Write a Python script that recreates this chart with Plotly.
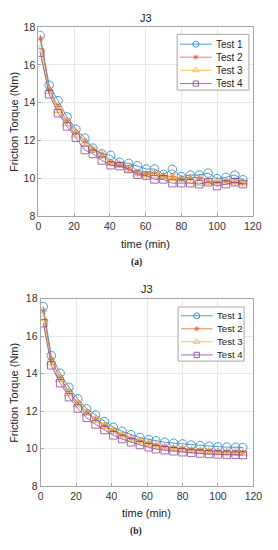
import plotly.graph_objects as go

time_a = [1, 6, 11, 16, 21, 26, 30.5, 35.5, 40.5, 45.5, 50.5, 55.5, 60.5, 65, 70, 75, 80, 85, 90, 95, 100, 105, 110, 114.5]
a_test1 = [17.56, 14.93, 14.11, 13.25, 12.6, 12.13, 11.6, 11.3, 11.22, 10.85, 10.8, 10.67, 10.5, 10.5, 10.22, 10.48, 10.1, 10.18, 10.18, 10.28, 9.99, 10.06, 10.18, 9.93]
a_test2 = [17.38, 14.7, 13.8, 13.05, 12.45, 11.95, 11.55, 11.3, 10.85, 10.75, 10.5, 10.3, 10.2, 10.3, 10.15, 10.1, 10.0, 10.05, 10.05, 9.85, 9.8, 9.85, 9.8, 9.75]
a_test3 = [16.8, 14.6, 13.6, 12.9, 12.3, 11.85, 11.5, 11.2, 10.8, 10.7, 10.45, 10.25, 10.2, 10.15, 10.1, 10.0, 9.95, 9.9, 9.75, 9.8, 9.85, 9.8, 9.85, 9.8]
a_test4 = [16.65, 14.45, 13.45, 12.75, 12.15, 11.5, 11.3, 10.95, 10.7, 10.65, 10.5, 10.2, 10.15, 9.95, 9.95, 9.75, 9.75, 9.75, 9.7, 9.8, 9.6, 9.7, 9.8, 9.7]

time_b = [1.5, 6, 11, 16, 21, 26, 31, 36, 41, 46, 51, 56, 61, 65, 70, 75, 80, 85, 90, 95, 100, 105, 110, 114]
b_test1 = [17.58, 14.97, 14.03, 13.28, 12.66, 12.13, 11.8, 11.45, 11.15, 10.93, 10.75, 10.6, 10.5, 10.43, 10.35, 10.3, 10.26, 10.2, 10.17, 10.14, 10.11, 10.09, 10.08, 10.07]
b_test2 = [17.35, 14.75, 13.8, 13.05, 12.45, 11.98, 11.6, 11.25, 10.98, 10.75, 10.57, 10.43, 10.3, 10.2, 10.12, 10.05, 10.0, 9.95, 9.91, 9.88, 9.85, 9.83, 9.81, 9.8]
b_test3 = [16.95, 14.6, 13.7, 12.95, 12.35, 11.9, 11.5, 11.2, 10.92, 10.7, 10.52, 10.38, 10.25, 10.15, 10.07, 10.0, 9.95, 9.9, 9.86, 9.83, 9.8, 9.78, 9.77, 9.76]
b_test4 = [16.7, 14.45, 13.5, 12.75, 12.15, 11.65, 11.3, 11.0, 10.72, 10.52, 10.35, 10.2, 10.08, 9.98, 9.92, 9.87, 9.82, 9.78, 9.75, 9.72, 9.7, 9.69, 9.68, 9.67]

names = ["Test 1", "Test 2", "Test 3", "Test 4"]
colors = ["#0072BD", "#D95319", "#EDB120", "#7E2F8E"]
symbols = ["circle-open", "asterisk-open", "triangle-up-open", "square-open"]
sizes = [8.5, 6, 8.5, 7.5]

W, H = 278, 550
fig = go.Figure()

for k, ys in enumerate([a_test1, a_test2, a_test3, a_test4]):
    fig.add_trace(go.Scatter(x=time_a, y=ys, name=names[k], mode="lines+markers",
                             line=dict(color=colors[k], width=1), opacity=0.7,
                             marker=dict(symbol=symbols[k], size=sizes[k], color=colors[k], line=dict(width=1)),
                             xaxis="x", yaxis="y", showlegend=False))
for k, ys in enumerate([b_test1, b_test2, b_test3, b_test4]):
    fig.add_trace(go.Scatter(x=time_b, y=ys, name=names[k], mode="lines+markers",
                             line=dict(color=colors[k], width=1), opacity=0.7,
                             marker=dict(symbol=symbols[k], size=sizes[k], color=colors[k], line=dict(width=1)),
                             xaxis="x2", yaxis="y2", showlegend=False))

axcommon = dict(showline=True, mirror=True, linecolor="#a6a6a6", linewidth=1,
                ticks="inside", ticklen=3, tickcolor="#a6a6a6",
                showgrid=True, gridcolor="#e8e8e8", gridwidth=1, zeroline=False,
                tickfont=dict(family="Liberation Sans, Arial", size=10.5, color="#333333"))

def px_x(v):
    return v / W

def px_y(v):
    return 1 - v / H

fig.update_layout(
    width=W, height=H, margin=dict(l=0, r=0, t=0, b=0),
    paper_bgcolor="white", plot_bgcolor="rgba(0,0,0,0)", showlegend=False,
    xaxis=dict(domain=[px_x(37), px_x(261)], range=[0, 120], dtick=20, anchor="y", **axcommon),
    yaxis=dict(domain=[px_y(215), px_y(21.5)], range=[8, 18], dtick=2, anchor="x", **axcommon),
    xaxis2=dict(domain=[px_x(39.3), px_x(261.7)], range=[0, 120], dtick=20, anchor="y2", **axcommon),
    yaxis2=dict(domain=[px_y(491), px_y(299.3)], range=[8, 18], dtick=2, anchor="x2", **axcommon),
    xaxis3=dict(domain=[0, 1], range=[0, W], visible=False, anchor="y3", fixedrange=True),
    yaxis3=dict(domain=[0, 1], range=[H, 0], visible=False, anchor="x3", fixedrange=True),
)

# Manual legends (MATLAB-style compact boxes), drawn in a pixel-space overlay
legends = [
    dict(box=(182, 29, 257, 86), rows=[39, 52.3, 65.7, 79.3], line=(185, 218), text_x=220.5, fs=10),
    dict(box=(183, 307.7, 252, 363), rows=[316.7, 330, 343.3, 356.7], line=(186, 219), text_x=221.5, fs=9.6),
]
ann = []
for lg in legends:
    x0, y0, x1, y1 = lg["box"]
    fig.add_trace(go.Scatter(x=[x0, x1, x1, x0, x0], y=[y0, y0, y1, y1, y0], mode="lines",
                             fill="toself", fillcolor="white", line=dict(color="#a6a6a6", width=1),
                             xaxis="x3", yaxis="y3", hoverinfo="skip", showlegend=False))
    lx0, lx1 = lg["line"]
    for k, ry in enumerate(lg["rows"]):
        fig.add_trace(go.Scatter(x=[lx0, lx1], y=[ry, ry], mode="lines", opacity=0.7,
                                 line=dict(color=colors[k], width=1),
                                 xaxis="x3", yaxis="y3", hoverinfo="skip", showlegend=False))
        ann.append(dict(text=names[k], x=px_x(lg["text_x"]), y=px_y(ry), xanchor="left", yanchor="middle",
                        font=dict(family="Liberation Sans, Arial", size=lg["fs"], color="#222222")))
    for k, ry in enumerate(lg["rows"]):
        fig.add_trace(go.Scatter(x=[(lx0 + lx1) / 2], y=[ry], mode="markers", opacity=0.75,
                                 marker=dict(symbol=symbols[k], size=sizes[k] * 0.7, color=colors[k],
                                             line=dict(width=1)),
                                 xaxis="x3", yaxis="y3", hoverinfo="skip", showlegend=False))

tf = dict(family="Liberation Sans, Arial", size=11, color="#222222")
ann += [
    dict(text="J3", x=px_x(149), y=px_y(12), font=tf, xanchor="center", yanchor="middle"),
    dict(text="J3", x=px_x(150), y=px_y(289), font=tf, xanchor="center", yanchor="middle"),
    dict(text="time (min)", x=px_x(149), y=px_y(243), font=tf, xanchor="center", yanchor="middle"),
    dict(text="time (min)", x=px_x(150), y=px_y(518), font=tf, xanchor="center", yanchor="middle"),
    dict(text="Friction Torque (Nm)", x=px_x(12), y=px_y(118), font=tf, textangle=-90, xanchor="center", yanchor="middle"),
    dict(text="Friction Torque (Nm)", x=px_x(12), y=px_y(395), font=tf, textangle=-90, xanchor="center", yanchor="middle"),
    dict(text="<b>(a)</b>", x=px_x(139), y=px_y(262), xanchor="center", yanchor="middle",
         font=dict(family="Liberation Serif, Times New Roman", size=9.5, color="#222222")),
    dict(text="<b>(b)</b>", x=px_x(139), y=px_y(537), xanchor="center", yanchor="middle",
         font=dict(family="Liberation Serif, Times New Roman", size=9.5, color="#222222")),
]
for a in ann:
    a.update(xref="paper", yref="paper", showarrow=False)
fig.update_layout(annotations=ann)

fig.write_html("out.html", config={"displayModeBar": False},
               post_script="document.body.style.margin='0';document.body.style.overflow='hidden';")
